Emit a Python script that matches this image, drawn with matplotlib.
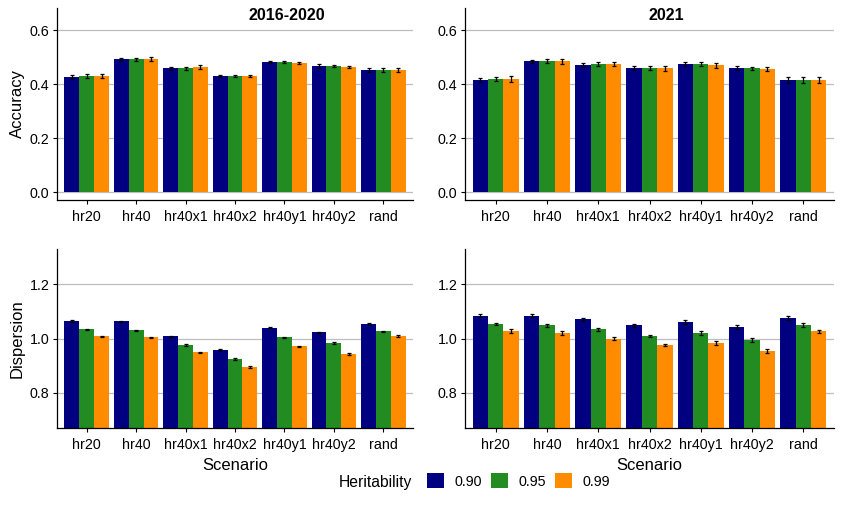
import numpy as np
import matplotlib
matplotlib.use("Agg")
import matplotlib.pyplot as plt
from matplotlib.patches import Patch

plt.rcParams['font.family'] = ['Liberation Sans', 'DejaVu Sans']

scenarios = ["hr20", "hr40", "hr40x1", "hr40x2", "hr40y1", "hr40y2", "rand"]
heritability = ["0.90", "0.95", "0.99"]
colors = ["#000080", "#228B22", "#FF8C00"]

# accuracy, 2016-2020 (rows = heritability 0.90, 0.95, 0.99)
acc_1620 = [[0.427, 0.493, 0.460, 0.431, 0.483, 0.468, 0.453],
            [0.430, 0.493, 0.460, 0.431, 0.483, 0.468, 0.453],
            [0.431, 0.494, 0.464, 0.431, 0.479, 0.464, 0.453]]
acc_1620_se = [[0.007, 0.006, 0.006, 0.005, 0.004, 0.006, 0.006],
               [0.007, 0.006, 0.005, 0.005, 0.004, 0.004, 0.006],
               [0.006, 0.006, 0.006, 0.005, 0.005, 0.004, 0.006]]

# accuracy, 2021
acc_2021 = [[0.416, 0.486, 0.472, 0.460, 0.475, 0.460, 0.416],
            [0.420, 0.486, 0.475, 0.460, 0.475, 0.460, 0.416],
            [0.420, 0.486, 0.475, 0.460, 0.470, 0.457, 0.416]]
acc_2021_se = [[0.009, 0.006, 0.008, 0.007, 0.008, 0.008, 0.010],
               [0.008, 0.008, 0.008, 0.008, 0.008, 0.006, 0.010],
               [0.011, 0.009, 0.007, 0.009, 0.009, 0.007, 0.010]]

# dispersion, 2016-2020
disp_1620 = [[1.064, 1.064, 1.009, 0.957, 1.040, 1.023, 1.053],
             [1.034, 1.031, 0.976, 0.924, 1.005, 0.983, 1.027],
             [1.009, 1.005, 0.950, 0.895, 0.972, 0.943, 1.009]]
disp_1620_se = [[0.004, 0.002, 0.002, 0.003, 0.002, 0.002, 0.003],
                [0.002, 0.002, 0.002, 0.003, 0.002, 0.003, 0.002],
                [0.002, 0.002, 0.002, 0.003, 0.002, 0.002, 0.004]]

# dispersion, 2021
disp_2021 = [[1.084, 1.084, 1.071, 1.049, 1.060, 1.042, 1.075],
             [1.053, 1.049, 1.034, 1.009, 1.020, 0.994, 1.049],
             [1.027, 1.020, 1.000, 0.976, 0.983, 0.954, 1.027]]
disp_2021_se = [[0.006, 0.006, 0.006, 0.006, 0.007, 0.008, 0.006],
                [0.005, 0.005, 0.005, 0.005, 0.007, 0.007, 0.007],
                [0.007, 0.007, 0.005, 0.005, 0.007, 0.007, 0.006]]

W, H = 842, 530
fig = plt.figure(figsize=(W / 100, H / 100), dpi=100)


def px_axes(x0, x1, y0, y1):
    return fig.add_axes([x0 / W, 1 - y1 / H, (x1 - x0) / W, (y1 - y0) / H])


def draw_panel(ax, vals, errs, ylim, yticks):
    x = np.arange(1, len(scenarios) + 1)
    bw = 0.3
    ax.set_axisbelow(True)
    for i in range(3):
        pos = x + (i - 1) * bw
        ax.bar(pos, vals[i], width=bw, color=colors[i], bottom=0)
        ax.errorbar(pos, vals[i], yerr=errs[i], fmt='none', ecolor='black',
                    elinewidth=0.9, capsize=1.3, capthick=0.9)
    ax.set_xlim(0.4, 7.6)
    ax.set_ylim(*ylim)
    ax.set_yticks(yticks)
    ax.set_yticklabels(["%.1f" % t for t in yticks])
    ax.set_xticks(x)
    ax.set_xticklabels(scenarios)
    ax.grid(axis='y', color='#BEBEBE', linewidth=0.9)
    for s in ['top', 'right']:
        ax.spines[s].set_visible(False)
    for s in ['left', 'bottom']:
        ax.spines[s].set_linewidth(0.9)
    ax.tick_params(axis='both', length=3, width=0.8, labelsize=10.3,
                   colors='black')
    ax.tick_params(axis='x', pad=4.5)
    ax.tick_params(axis='y', pad=2.5)


ax1 = px_axes(57, 413, 8, 200)
ax2 = px_axes(465, 834, 8, 200)
ax3 = px_axes(57, 413, 249, 428)
ax4 = px_axes(465, 834, 249, 428)

acc_ticks = [0.0, 0.2, 0.4, 0.6]
disp_ticks = [0.8, 1.0, 1.2]
draw_panel(ax1, acc_1620, acc_1620_se, (-0.0285, 0.683), acc_ticks)
draw_panel(ax2, acc_2021, acc_2021_se, (-0.0285, 0.683), acc_ticks)
draw_panel(ax3, disp_1620, disp_1620_se, (0.671, 1.329), disp_ticks)
draw_panel(ax4, disp_2021, disp_2021_se, (0.671, 1.329), disp_ticks)

fig.text(287 / W, 1 - 15 / H, "2016-2020", ha='center', va='center',
         fontsize=11.5, fontweight='bold')
fig.text(666 / W, 1 - 15 / H, "2021", ha='center', va='center',
         fontsize=11.5, fontweight='bold')

fig.text(17 / W, 1 - 104 / H, "Accuracy", rotation=90, ha='center',
         va='center', fontsize=12)
fig.text(17 / W, 1 - 339 / H, "Dispersion", rotation=90, ha='center',
         va='center', fontsize=12)
fig.text(235 / W, 1 - 465 / H, "Scenario", ha='center', va='center', fontsize=12)
fig.text(649 / W, 1 - 465 / H, "Scenario", ha='center', va='center', fontsize=12)

fig.text(412 / W, 1 - 483 / H, "Heritability", ha='right', va='center',
         fontsize=11.3)
handles = [Patch(facecolor=c, edgecolor='none') for c in colors]
fig.legend(handles, heritability, loc='center left',
           bbox_to_anchor=(427 / W, 1 - 481 / H), ncol=3, frameon=False,
           fontsize=10.3, borderpad=0, borderaxespad=0, handlelength=1.2,
           handleheight=1.2, handletextpad=0.75, columnspacing=0.6)

fig.savefig("out.png", dpi=100)
